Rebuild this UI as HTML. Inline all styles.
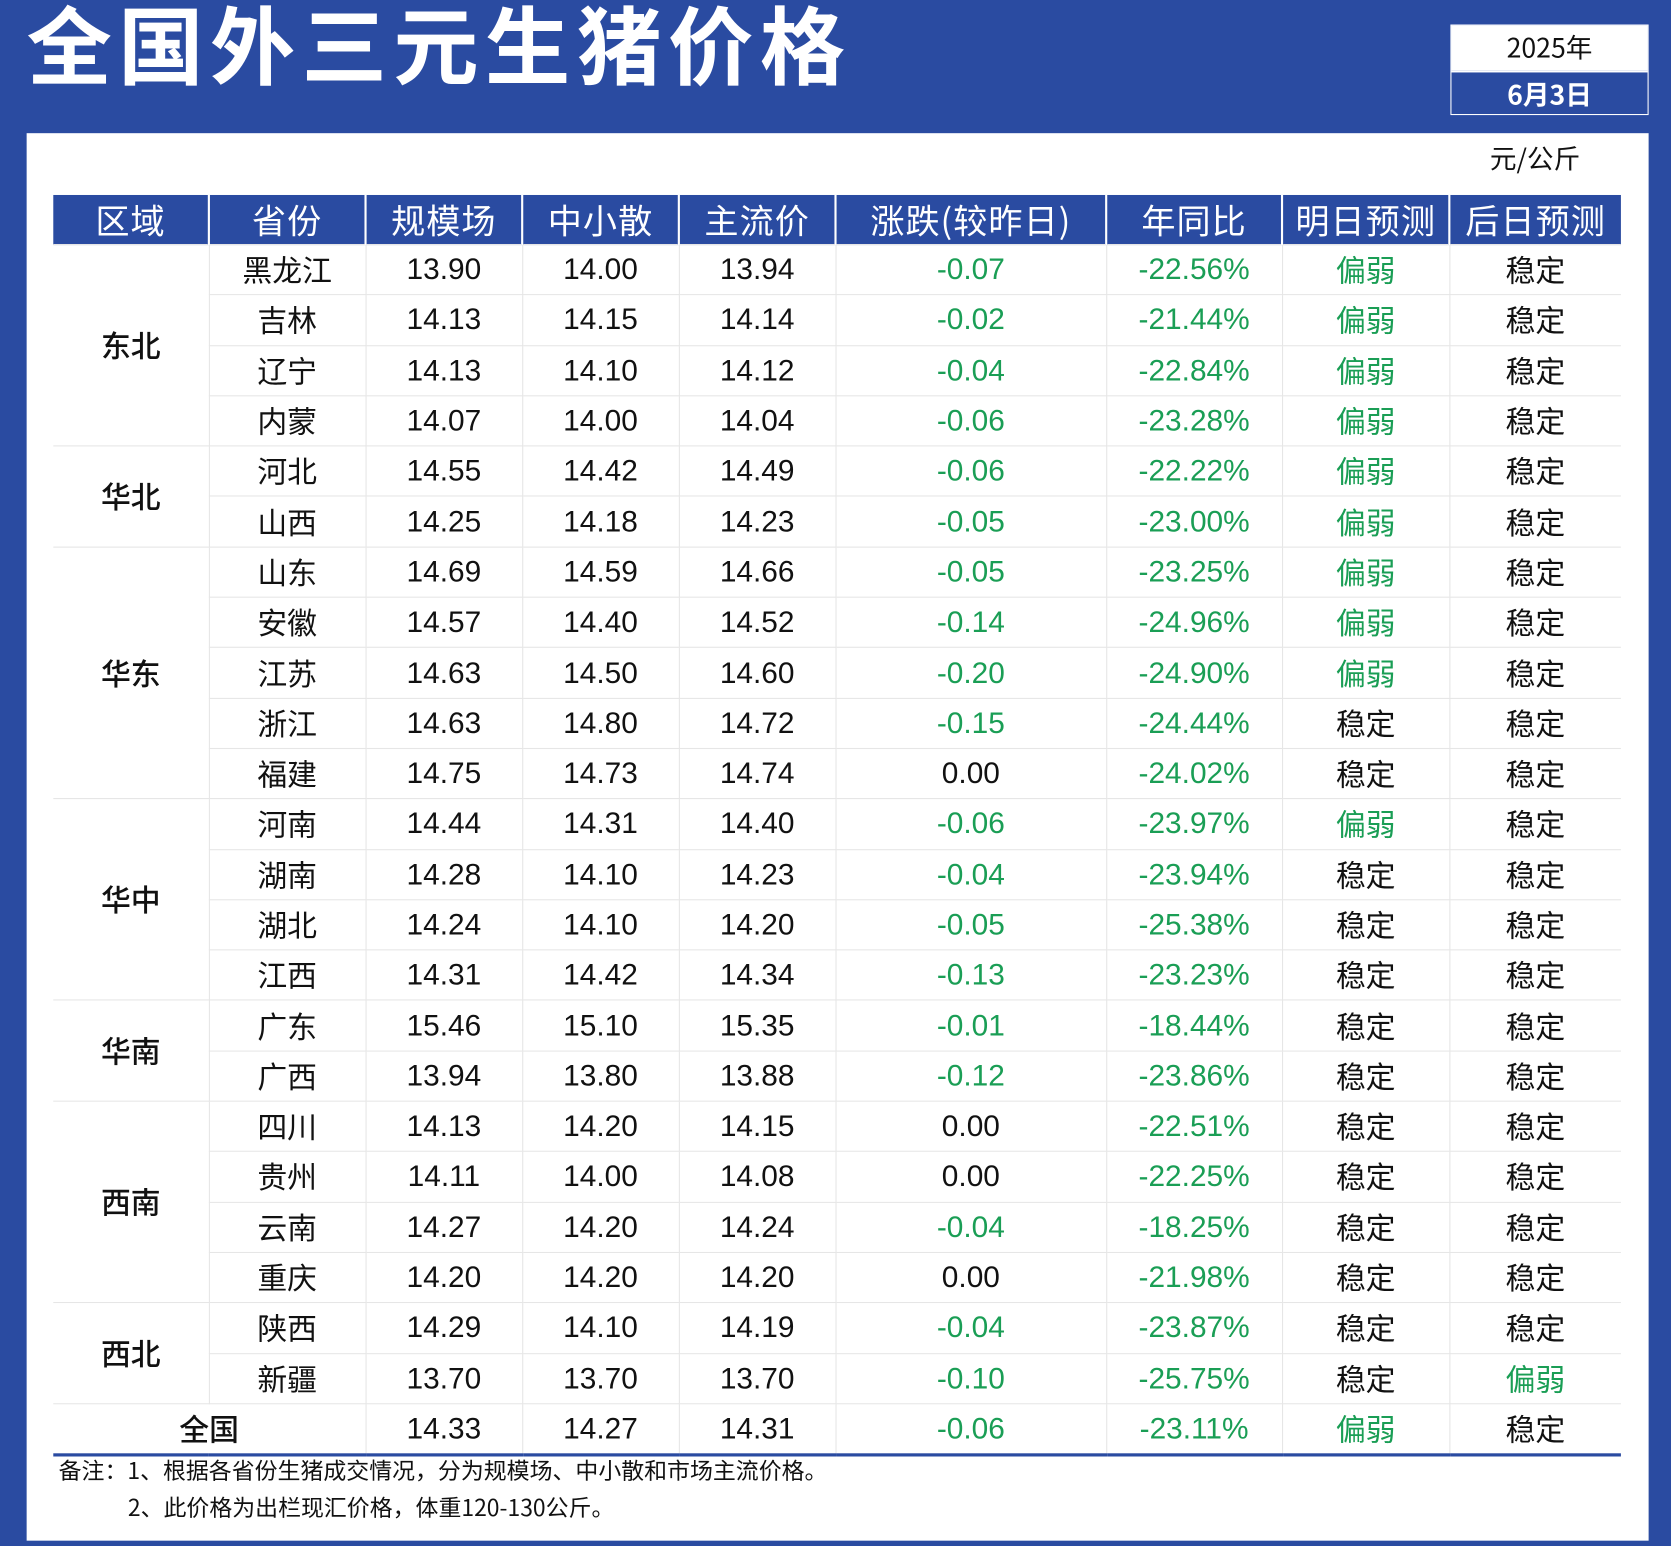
<!DOCTYPE html>
<html><head><meta charset="utf-8"><style>
html,body{margin:0;padding:0;width:1671px;height:1546px;overflow:hidden;background:#2a4ba1}
#w{position:absolute;left:0;top:0;width:1568px;height:1451px;transform:scale(1.06569,1.06547);transform-origin:0 0;font-family:"Liberation Sans","Noto Sans CJK SC",sans-serif}
.title{position:absolute;left:25px;top:-19px;color:#fff;font-size:80px;font-weight:bold;font-family:"Noto Sans CJK SC",sans-serif;letter-spacing:6px;white-space:nowrap}
.datebox{position:absolute;left:1361px;top:23px;width:186px;height:85px;border:1px solid #fff;box-sizing:border-box}
.d1{height:42px;background:#fff;color:#111;font-size:25px;text-align:center;line-height:40px;font-family:"Noto Sans CJK SC",sans-serif}
.d2{height:41px;color:#fff;font-size:25px;text-align:center;line-height:41px;font-weight:bold;font-family:"Noto Sans CJK SC",sans-serif;border-top:2px solid #fff}
.panel{position:absolute;left:25px;top:125px;width:1522px;height:1321px;background:#fff}
.unit{position:absolute;left:1398px;top:130px;font-size:25px;color:#111;font-family:"Noto Sans CJK SC",sans-serif}
table{position:absolute;left:50px;top:183px;border-collapse:collapse;table-layout:fixed;width:1471px}
th{background:#2a4ba1;color:#fff;font-weight:normal;font-size:32px;height:46px;padding:0;border-left:2px solid #fff;font-family:"Noto Sans CJK SC",sans-serif;white-space:nowrap;letter-spacing:1px}
th:first-child{border-left:none}
td{height:46.3px;padding:0;text-align:center;font-size:28px;color:#111;border:1px solid #e6e6e6;font-family:"Liberation Sans","Noto Sans CJK SC",sans-serif}
td.r{border-left:none}
tr td:last-child{border-right:none}
.g{color:#1a9e55}
.cn{font-family:"Noto Sans CJK SC",sans-serif}
tr.tot td{border-bottom:3px solid #2a4ba1}
.note{position:absolute;left:55px;font-size:21.5px;color:#111;font-family:"Noto Sans CJK SC",sans-serif;white-space:nowrap}
</style></head><body>
<div id="w">
<div class="title">全国外三元生猪价格</div>
<div class="datebox"><div class="d1">2025年</div><div class="d2">6月3日</div></div>
<div class="panel"></div>
<div class="unit">元/公斤</div>
<table>
<colgroup><col style="width:146px"><col style="width:147px"><col style="width:147px"><col style="width:147px"><col style="width:147px"><col style="width:254px"><col style="width:165px"><col style="width:157px"><col style="width:161px"></colgroup>
<thead><tr><th>区域</th><th>省份</th><th>规模场</th><th>中小散</th><th>主流价</th><th>涨跌(较昨日)</th><th>年同比</th><th>明日预测</th><th>后日预测</th></tr></thead>
<tbody id="tb"></tbody>
</table>
<div class="note" style="top:1364px">备注：1、根据各省份生猪成交情况，分为规模场、中小散和市场主流价格。</div>
<div class="note" style="top:1399px;left:120px">2、此价格为出栏现汇价格，体重120-130公斤。</div>
</div>
<script>
const regions=[["东北",4],["华北",2],["华东",5],["华中",4],["华南",2],["西南",4],["西北",2]];
const provinces=["黑龙江","吉林","辽宁","内蒙","河北","山西","山东","安徽","江苏","浙江","福建","河南","湖南","湖北","江西","广东","广西","四川","贵州","云南","重庆","陕西","新疆"];
const scale=["13.90","14.13","14.13","14.07","14.55","14.25","14.69","14.57","14.63","14.63","14.75","14.44","14.28","14.24","14.31","15.46","13.94","14.13","14.11","14.27","14.20","14.29","13.70"];
const small=["14.00","14.15","14.10","14.00","14.42","14.18","14.59","14.40","14.50","14.80","14.73","14.31","14.10","14.10","14.42","15.10","13.80","14.20","14.00","14.20","14.20","14.10","13.70"];
const main=["13.94","14.14","14.12","14.04","14.49","14.23","14.66","14.52","14.60","14.72","14.74","14.40","14.23","14.20","14.34","15.35","13.88","14.15","14.08","14.24","14.20","14.19","13.70"];
const change=["-0.07","-0.02","-0.04","-0.06","-0.06","-0.05","-0.05","-0.14","-0.20","-0.15","0.00","-0.06","-0.04","-0.05","-0.13","-0.01","-0.12","0.00","0.00","-0.04","0.00","-0.04","-0.10"];
const yoy=["-22.56%","-21.44%","-22.84%","-23.28%","-22.22%","-23.00%","-23.25%","-24.96%","-24.90%","-24.44%","-24.02%","-23.97%","-23.94%","-25.38%","-23.23%","-18.44%","-23.86%","-22.51%","-22.25%","-18.25%","-21.98%","-23.87%","-25.75%"];
const tomorrow=["偏弱","偏弱","偏弱","偏弱","偏弱","偏弱","偏弱","偏弱","偏弱","稳定","稳定","偏弱","稳定","稳定","稳定","稳定","稳定","稳定","稳定","稳定","稳定","稳定","稳定"];
const after=["稳定","稳定","稳定","稳定","稳定","稳定","稳定","稳定","稳定","稳定","稳定","稳定","稳定","稳定","稳定","稳定","稳定","稳定","稳定","稳定","稳定","稳定","偏弱"];
const total=["全国","14.33","14.27","14.31","-0.06","-23.11%","偏弱","稳定"];
const tb=document.getElementById('tb');
function cell(tr,txt,cls){const td=document.createElement('td');td.textContent=txt;if(cls)td.className=cls;tr.appendChild(td);return td;}
let idx=0;
regions.forEach(([rn,cnt])=>{
  for(let k=0;k<cnt;k++){
    const i=idx++;
    const tr=document.createElement('tr');
    
    
    if(k==0){const td=cell(tr,rn,'cn r');td.rowSpan=cnt;td.style.fontWeight='500';td.style.fontSize='28px';}
    cell(tr,provinces[i],'cn');
    cell(tr,scale[i]);cell(tr,small[i]);cell(tr,main[i]);
    cell(tr,change[i],parseFloat(change[i])<0?'g':'');
    cell(tr,yoy[i],'g');
    cell(tr,tomorrow[i],'cn'+(tomorrow[i]=='偏弱'?' g':''));
    cell(tr,after[i],'cn'+(after[i]=='偏弱'?' g':''));
    tb.appendChild(tr);
  }
});
const tr=document.createElement('tr');tr.className='tot';


const t0=cell(tr,total[0],'cn r');t0.colSpan=2;t0.style.fontWeight='500';
for(let j=1;j<total.length;j++){let c='';if(j==4||j==5)c='g';if(j>=6)c='cn'+(total[j]=='偏弱'?' g':'');cell(tr,total[j],c);}
tb.appendChild(tr);
</script>
</body></html>
